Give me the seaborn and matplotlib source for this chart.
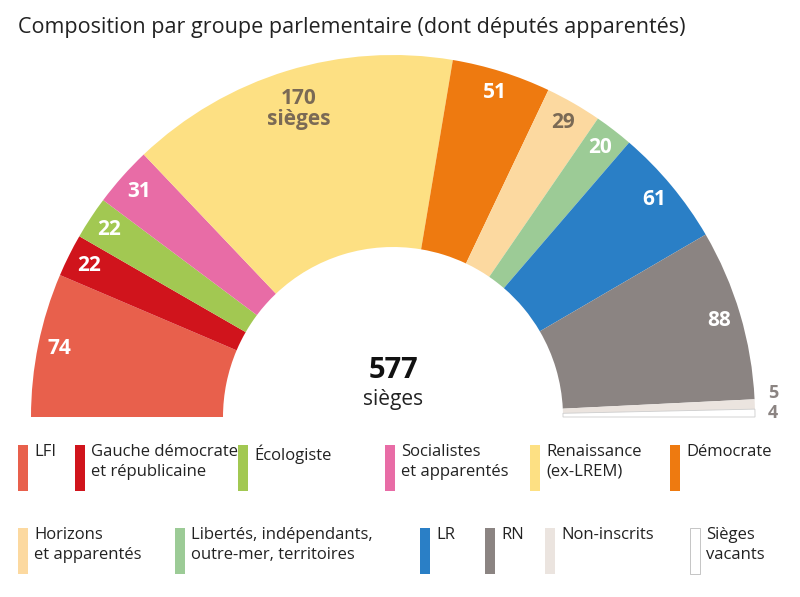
import numpy as np
import matplotlib.pyplot as plt
import seaborn as sns
from matplotlib.patches import Rectangle

sns.set_theme(style="white")
plt.rcParams['font.family'] = ['Open Sans', 'DejaVu Sans']

groups = ["LFI", "Gauche démocrate\net républicaine", "Écologiste", "Socialistes\net apparentés",
          "Renaissance\n(ex-LREM)", "Démocrate", "Horizons\net apparentés",
          "Libertés, indépendants,\noutre-mer, territoires", "LR", "RN", "Non-inscrits", "Sièges\nvacants"]
seats = [74, 22, 22, 31, 170, 51, 29, 20, 61, 88, 5, 4]
colors = ["#e8604c", "#d0141c", "#a2c852", "#e86ca6", "#fde083", "#ee7a10", "#fcd9a0",
          "#9ccb96", "#2a7fc6", "#8b8482", "#ebe4df", "#ffffff"]
total = sum(seats)

fig = plt.figure(figsize=(8, 5.97), dpi=100)
ax = fig.add_axes([0, 0, 1, 1])
cx, cy, R, r_in = 393, 180, 362, 170
wedges, _ = ax.pie(seats + [total], colors=colors + ["none"], startangle=180, counterclock=False,
                   center=(cx, cy), radius=R, frame=True,
                   wedgeprops=dict(width=R - r_in, edgecolor="none", linewidth=0))
wedges[11].set_edgecolor("#cccccc")
wedges[11].set_linewidth(0.6)
ax.set_xlim(0, 800)
ax.set_ylim(0, 597)
ax.set_aspect("equal")
ax.axis("off")

cum = np.cumsum([0] + seats)
for i, s in enumerate(seats[:10]):
    mid = 180 - (cum[i] + s / 2) * 180 / total
    a = np.radians(mid)
    rr = 322 if i == 4 else 340
    txt = f"{s}\nsièges" if i == 4 else str(s)
    col = "#7a6a55" if i in (4, 6) else "white"
    ax.text(cx + rr * np.cos(a), cy + rr * np.sin(a), txt, ha="center", va="center",
            fontsize=15, fontweight="bold", color=col, linespacing=0.95)
ax.text(773, 597 - 393, str(seats[10]), ha="center", va="center", fontsize=13, fontweight="bold", color="#8b8482")
ax.text(773, 597 - 413, str(seats[11]), ha="center", va="center", fontsize=13, fontweight="bold", color="#8b8482")

ax.text(cx, 597 - 370, str(total), ha="center", va="center", fontsize=21, fontweight="bold", color="#111111")
ax.text(cx, 597 - 400, "sièges", ha="center", va="center", fontsize=15, color="#222222")
ax.text(18, 597 - 27, "Composition par groupe parlementaire (dont députés apparentés)",
        ha="left", va="center", fontsize=15.5, color="#222222")

leg_x = [18, 75, 238, 385, 530, 670, 18, 175, 420, 485, 545, 690]
for i, (g, c) in enumerate(zip(groups, colors)):
    top = 445 if i < 6 else 528
    ax.add_patch(Rectangle((leg_x[i], 597 - top - 46), 10, 46, facecolor=c,
                           edgecolor="#bbbbbb" if i == 11 else "none", linewidth=0.6))
    ax.text(leg_x[i] + 16, 597 - top + 1, g, ha="left", va="top", fontsize=12,
            color="#222222", linespacing=1.3)

fig.savefig("out.png", dpi=100, facecolor="white")
